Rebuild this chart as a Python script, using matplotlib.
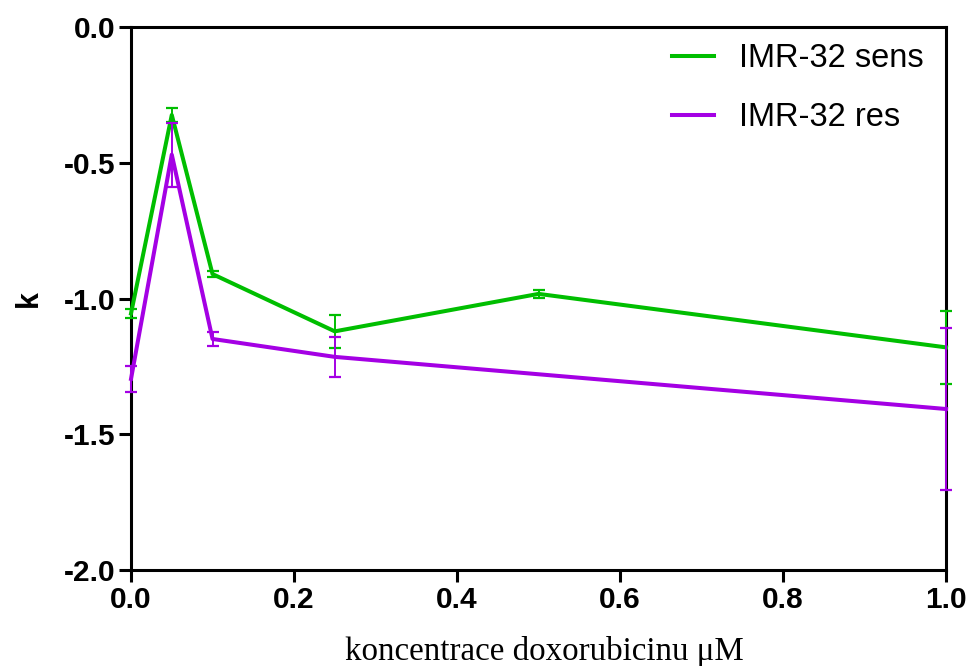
import matplotlib
matplotlib.use("Agg")
import matplotlib.pyplot as plt
from matplotlib.lines import Line2D

# -------------------------
# Data
# -------------------------
conc = [0.0, 0.05, 0.1, 0.25, 0.5, 1.0]

sens_mean = [-1.055, -0.324, -0.910, -1.121, -0.983, -1.180]
sens_err = [0.017, 0.026, 0.011, 0.060, 0.015, 0.134]

# resistant line has no point at 0.5 uM
res_mean = [-1.296, -0.470, -1.149, -1.215, None, -1.407]
res_err = [0.048, 0.118, 0.026, 0.075, None, 0.300]

res_x = [c for c, m in zip(conc, res_mean) if m is not None]
res_y = [m for m in res_mean if m is not None]
res_e = [e for e in res_err if e is not None]

GREEN = "#00BE00"
PURPLE = "#A400E4"
LW = 2.9

plt.rcParams["font.family"] = ["Liberation Sans", "DejaVu Sans"]

fig = plt.figure(figsize=(9.72, 6.66), dpi=100)
ax = fig.add_axes([0.1348, 0.1441, 0.8385, 0.8154])

ax.errorbar(conc, sens_mean, yerr=sens_err, color=GREEN, lw=LW,
            elinewidth=1.4, capsize=4.5, capthick=1.6,
            zorder=5, clip_on=False)
ax.errorbar(res_x, res_y, yerr=res_e, color=PURPLE, lw=LW,
            elinewidth=1.4, capsize=4.5, capthick=1.6,
            zorder=6, clip_on=False)

ax.set_xlim(0, 1.0)
ax.set_ylim(-2.0, 0.0)
ax.set_xticks([0.0, 0.2, 0.4, 0.6, 0.8, 1.0])
ax.set_yticks([-2.0, -1.5, -1.0, -0.5, 0.0])
ax.set_xticklabels(["0.0", "0.2", "0.4", "0.6", "0.8", "1.0"])
ax.set_yticklabels(["-2.0", "-1.5", "-1.0", "-0.5", "0.0"])

for sp in ax.spines.values():
    sp.set_linewidth(2.2)
ax.tick_params(axis="both", direction="out", length=8.5, width=2.2,
               labelsize=21.5, pad=3)
for lab in ax.get_xticklabels() + ax.get_yticklabels():
    lab.set_fontweight("bold")

ax.set_ylabel("k", fontsize=22, fontweight="bold", labelpad=14)
ax.set_xlabel("koncentrace doxorubicinu \u03bcM", fontsize=23.8,
              family=["Liberation Serif", "DejaVu Serif"])
ax.xaxis.set_label_coords(0.507, -0.122, transform=ax.transAxes)
ax.xaxis.label.set_va("top")

handles = [Line2D([], [], color=GREEN, lw=LW),
           Line2D([], [], color=PURPLE, lw=LW)]
ax.legend(handles, ["IMR-32 sens", "IMR-32 res"], loc="upper right",
          bbox_to_anchor=(0.992, 1.0), frameon=False, fontsize=23.5,
          handlelength=1.3, handletextpad=0.75, labelspacing=0.85,
          borderaxespad=0.1)

fig.savefig("out.png", dpi=100)
